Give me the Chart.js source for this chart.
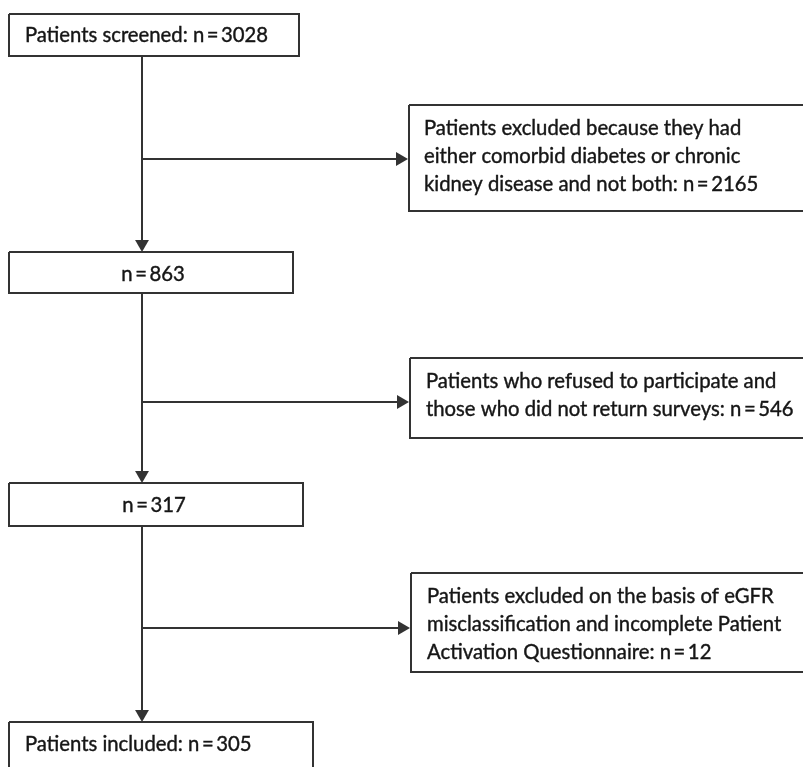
<!DOCTYPE html>
<html>
<head>
<meta charset="utf-8">
<script src="https://cdn.jsdelivr.net/npm/chart.js@4"></script>
<style>
    html, body { margin: 0; padding: 0; background: #fff; }
    #wrap { width: 803px; height: 767px; }
</style>
</head>
<body>
<div id="wrap"><canvas id="flow"></canvas></div>
<script>
// main column of the flow
var stageLabels = ['Patients screened: ', '', '', 'Patients included: '];
var stageCounts = [3028, 863, 317, 305];

// exclusions on the right
var exclusionLines = [
    ['Patients excluded because they had', 'either comorbid diabetes or chronic', 'kidney disease and not both: '],
    ['Patients who refused to participate and', 'those who did not return surveys: '],
    ['Patients excluded on the basis of eGFR', 'misclassification and incomplete Patient', 'Activation Questionnaire: ']
];
var exclusionCounts = [2165, 546, 12];

// layout (page units, y goes down) - left, top, right, bottom
var stageBoxes = [[9, 14, 299, 56], [9, 252, 293, 293], [9, 483, 303, 526], [9, 722, 313, 800]];
var stageTextX = [25, 153, 154, 25];
var stageTextY = [35, 274, 505, 744];
var exclBoxes = [[409, 105, 810, 211], [410, 358, 810, 438], [411, 573, 810, 672]];
var exclTextX = [424, 426, 427];
var exclTextY = [128, 381, 596];
var branchY = [159, 402, 628];
var spineX = 142;
var lineH = 28;
var ink = '#333';
var headR = 8;

function fmt (n) {
    return 'n\u2009=\u2009' + n;
}

function boxData (b) {
    return [
        {x: b[0], y: b[1]}, {x: b[2], y: b[1]}, {x: b[2], y: b[3]},
        {x: b[0], y: b[3]}, {x: b[0], y: b[1]}
    ];
}

function lineSet (data) {
    return {
        data: data,
        showLine: true,
        fill: false,
        borderColor: ink,
        borderWidth: 2,
        borderJoinStyle: 'miter',
        tension: 0,
        pointRadius: 0
    };
}

function arrowSet (x1, y1, x2, y2, rot) {
    var ds = lineSet([{x: x1, y: y1}, {x: x2, y: y2}]);
    ds.pointStyle = 'triangle';
    ds.pointRadius = [0, headR];
    ds.pointRotation = rot;
    ds.pointBackgroundColor = ink;
    ds.pointBorderColor = ink;
    ds.pointBorderWidth = 0;
    return ds;
}

var datasets = [];
stageBoxes.forEach(function (b) { datasets.push(lineSet(boxData(b))); });
exclBoxes.forEach(function (b) { datasets.push(lineSet(boxData(b))); });

for (var i = 0; i < stageBoxes.length - 1; i++) {
    var nextTop = stageBoxes[i + 1][1];
    datasets.push(arrowSet(spineX, stageBoxes[i][3], spineX, nextTop - headR, 180));
    var tipX = exclBoxes[i][0] - 1;
    datasets.push(arrowSet(spineX, branchY[i], tipX - headR, branchY[i], 90));
}

var textPlugin = {
    id: 'flowText',
    afterDatasetsDraw: function (chart) {
        var ctx = chart.ctx;
        var sx = chart.scales.x;
        var sy = chart.scales.y;
        ctx.save();
        ctx.fillStyle = '#161616';
        ctx.strokeStyle = '#161616';
        ctx.lineWidth = 0.4;
        ctx.font = '20.3px Lato';
        ctx.textBaseline = 'middle';

        function put (txt, x, y) {
            var px = sx.getPixelForValue(x);
            var py = sy.getPixelForValue(y);
            ctx.fillText(txt, px, py);
            ctx.strokeText(txt, px, py);
        }

        stageCounts.forEach(function (c, k) {
            ctx.textAlign = stageLabels[k] ? 'left' : 'center';
            put(stageLabels[k] + fmt(c), stageTextX[k], stageTextY[k]);
        });

        ctx.textAlign = 'left';
        exclusionLines.forEach(function (lines, k) {
            lines.forEach(function (ln, j) {
                var txt = ln;
                if (j === lines.length - 1) txt += fmt(exclusionCounts[k]);
                put(txt, exclTextX[k], exclTextY[k] + j * lineH);
            });
        });
        ctx.restore();
    }
};

new Chart(document.getElementById('flow'), {
    type: 'scatter',
    data: { datasets: datasets },
    options: {
        responsive: true,
        maintainAspectRatio: false,
        animation: false,
        layout: { padding: 0, autoPadding: false },
        plugins: { legend: { display: false }, tooltip: { enabled: false } },
        scales: {
            x: { type: 'linear', min: 0, max: 803, display: false },
            y: { type: 'linear', min: 0, max: 767, reverse: true, display: false }
        }
    },
    plugins: [textPlugin]
});
</script>
</body>
</html>
